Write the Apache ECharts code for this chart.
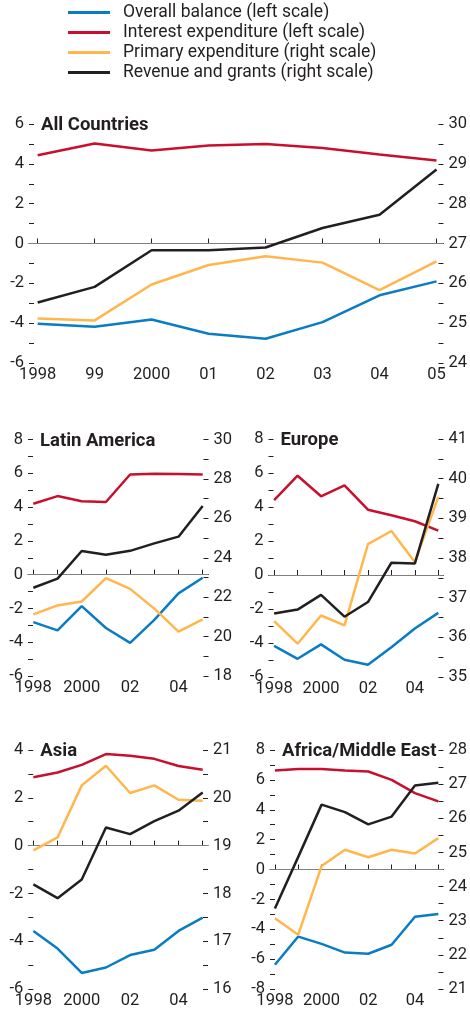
<!DOCTYPE html>
<html>
<head>
<meta charset="utf-8">
<script src="https://cdn.jsdelivr.net/npm/echarts@6/dist/echarts.min.js"></script>
<style>
  html, body { margin: 0; padding: 0; background: #fff; }
  #main { width: 470px; height: 1011px; }
</style>
</head>
<body>
<div id="main"></div>
<script>
// values, 1998-2005
let years = [1998, 1999, 2000, 2001, 2002, 2003, 2004, 2005];

let allBalance  = [-4.03, -4.18, -3.82, -4.53, -4.78, -3.95, -2.6, -1.9];
let allInterest = [4.43, 5.02, 4.67, 4.92, 5.0, 4.8, 4.47, 4.17];
let allPrimary  = [25.12, 25.07, 25.97, 26.46, 26.68, 26.52, 25.83, 26.55];
let allRevenue  = [25.52, 25.91, 26.83, 26.83, 26.9, 27.39, 27.72, 28.86];

let latBalance  = [-2.81, -3.3, -1.86, -3.16, -4.04, -2.68, -1.11, -0.18];
let latInterest = [4.2, 4.65, 4.35, 4.3, 5.93, 5.97, 5.96, 5.93];
let latPrimary  = [21.13, 21.58, 21.78, 22.97, 22.42, 21.42, 20.25, 20.87];
let latRevenue  = [22.48, 22.94, 24.34, 24.15, 24.35, 24.73, 25.07, 26.63];

let eurBalance  = [-4.17, -4.93, -4.08, -4.99, -5.28, -4.25, -3.15, -2.23];
let eurInterest = [4.41, 5.84, 4.63, 5.27, 3.84, 3.51, 3.16, 2.61];
let eurPrimary  = [36.41, 35.84, 36.55, 36.3, 38.35, 38.68, 37.9, 39.54];
let eurRevenue  = [36.6, 36.7, 37.07, 36.52, 36.89, 37.88, 37.86, 39.87];

let asiaBalance  = [-3.57, -4.31, -5.33, -5.1, -4.58, -4.36, -3.57, -3.01];
let asiaInterest = [2.86, 3.06, 3.38, 3.83, 3.76, 3.63, 3.33, 3.17];
let asiaPrimary  = [18.9, 19.17, 20.26, 20.67, 20.1, 20.26, 19.96, 19.94];
let asiaRevenue  = [18.19, 17.9, 18.29, 19.38, 19.24, 19.51, 19.73, 20.11];

let afrBalance  = [-6.38, -4.49, -4.98, -5.56, -5.64, -5.04, -3.16, -2.98];
let afrInterest = [6.62, 6.73, 6.73, 6.62, 6.56, 6.0, 5.11, 4.56];
let afrPrimary  = [23.07, 22.59, 24.6, 25.08, 24.86, 25.08, 24.97, 25.42];
let afrRevenue  = [23.36, 24.87, 26.4, 26.18, 25.82, 26.05, 26.96, 27.04];

let seriesNames = [
    'Overall balance (left scale)',
    'Interest expenditure (left scale)',
    'Primary expenditure (right scale)',
    'Revenue and grants (right scale)'
];
let colors = ['#0a7cc4', '#c8102e', '#ffb74d', '#231f20'];

let font = "Roboto, sans-serif";
let ink = '#231f20';

// panel layout and scales
let panels = [
    { title: 'All Countries', left: 29, right: 25, top: 124, height: 239, pad: [0.152, 0.122],
      lmin: -6, lmax: 6, lstep: 1, rmin: 24, rmax: 30, rstep: 0.5, full: true,
      data: [allBalance, allInterest, allPrimary, allRevenue] },
    { title: 'Latin America', left: 28, right: 261.5, top: 439.5, height: 236.5, pad: [0.22, 0.24],
      lmin: -6, lmax: 8, lstep: 1, rmin: 18, rmax: 30, rstep: 1, full: false,
      data: [latBalance, latInterest, latPrimary, latRevenue] },
    { title: 'Europe', left: 268.5, right: 22.5, top: 439, height: 238, pad: [0.24, 0.22],
      lmin: -6, lmax: 8, lstep: 1, rmin: 35, rmax: 41, rstep: 0.5, full: false,
      data: [eurBalance, eurInterest, eurPrimary, eurRevenue] },
    { title: 'Asia', left: 28.3, right: 262, top: 750, height: 239, pad: [0.21, 0.22],
      lmin: -6, lmax: 4, lstep: 1, rmin: 16, rmax: 21, rstep: 0.5, full: false,
      data: [asiaBalance, asiaInterest, asiaPrimary, asiaRevenue] },
    { title: 'Africa/Middle East', left: 270, right: 22.5, top: 750, height: 239, pad: [0.21, 0.22],
      lmin: -8, lmax: 8, lstep: 1, rmin: 21, rmax: 28, rstep: 0.5, full: false,
      data: [afrBalance, afrInterest, afrPrimary, afrRevenue] }
];

function yearLabel(v) {
    v = Math.round(v);
    if (v === 1998 || v === 2000) return String(v);
    return String(v).slice(2);
}

let grids = [], xAxes = [], yAxes = [], series = [], titles = [];

panels.forEach((p, i) => {
    grids.push({ left: p.left, right: p.right, top: p.top, height: p.height });
    titles.push({
        text: p.title, left: p.left + 12, top: p.top - 8, padding: 0,
        textStyle: { fontFamily: font, fontSize: 18.5, fontWeight: 'bold', color: ink }
    });
    let labelYears = p.full ? years : [1998, 2000, 2002, 2004];
    xAxes.push({
        type: 'value', gridIndex: i,
        min: years[0] - p.pad[0], max: years[years.length - 1] + p.pad[1],
        axisLine: { show: true, lineStyle: { color: ink, width: 1 } },
        axisTick: { show: true, inside: true, length: 5, customValues: years, lineStyle: { color: ink } },
        axisLabel: { customValues: labelYears, formatter: yearLabel, margin: 3,
            fontFamily: font, fontSize: 16.5, color: ink },
        splitLine: { show: false }
    });
    let evenOnly = (v) => (Math.round(v) % 2 === 0 ? String(Math.round(v)) : '');
    yAxes.push({
        type: 'value', gridIndex: i, position: 'left',
        min: p.lmin, max: p.lmax, interval: p.lstep,
        axisLine: { show: false },
        axisTick: { show: true, inside: true, length: 5, lineStyle: { color: ink } },
        axisLabel: { formatter: evenOnly, margin: 5, fontFamily: font, fontSize: 16.5, color: ink },
        splitLine: { show: false }
    });
    yAxes.push({
        type: 'value', gridIndex: i, position: 'right',
        min: p.rmin, max: p.rmax, interval: p.rstep,
        axisLine: { show: false },
        axisTick: { show: true, inside: true, length: 5, lineStyle: { color: ink } },
        axisLabel: {
            formatter: p.rstep === 1 ? evenOnly : (v) => (Number.isInteger(v) ? String(v) : ''),
            margin: 5, fontFamily: font, fontSize: 16.5, color: ink
        },
        splitLine: { show: false }
    });
    p.data.forEach((arr, k) => {
        let s = {
            name: seriesNames[k], type: 'line',
            xAxisIndex: i, yAxisIndex: i * 2 + (k < 2 ? 0 : 1),
            data: years.map((y, j) => [y, arr[j]]),
            symbol: 'none', color: colors[k],
            lineStyle: { color: colors[k], width: 2.5 },
            z: 3
        };
        if (k === 0) {
            s.markLine = {
                silent: true, symbol: 'none', label: { show: false },
                lineStyle: { color: '#808080', width: 1, type: 'solid' },
                data: [{ yAxis: 0 }], z: 1
            };
        }
        series.push(s);
    });
});

let chart = echarts.init(document.getElementById('main'));
chart.setOption({
    backgroundColor: '#fff',
    animation: false,
    title: titles,
    legend: {
        data: seriesNames, orient: 'vertical', left: 68, top: 3, padding: 0,
        icon: 'rect', itemWidth: 42, itemHeight: 3, itemGap: 1,
        textStyle: { fontFamily: font, fontSize: 17.5, color: ink, lineHeight: 19, padding: [0, 0, 0, 8] }
    },
    grid: grids,
    xAxis: xAxes,
    yAxis: yAxes,
    series: series
});
</script>
</body>
</html>
